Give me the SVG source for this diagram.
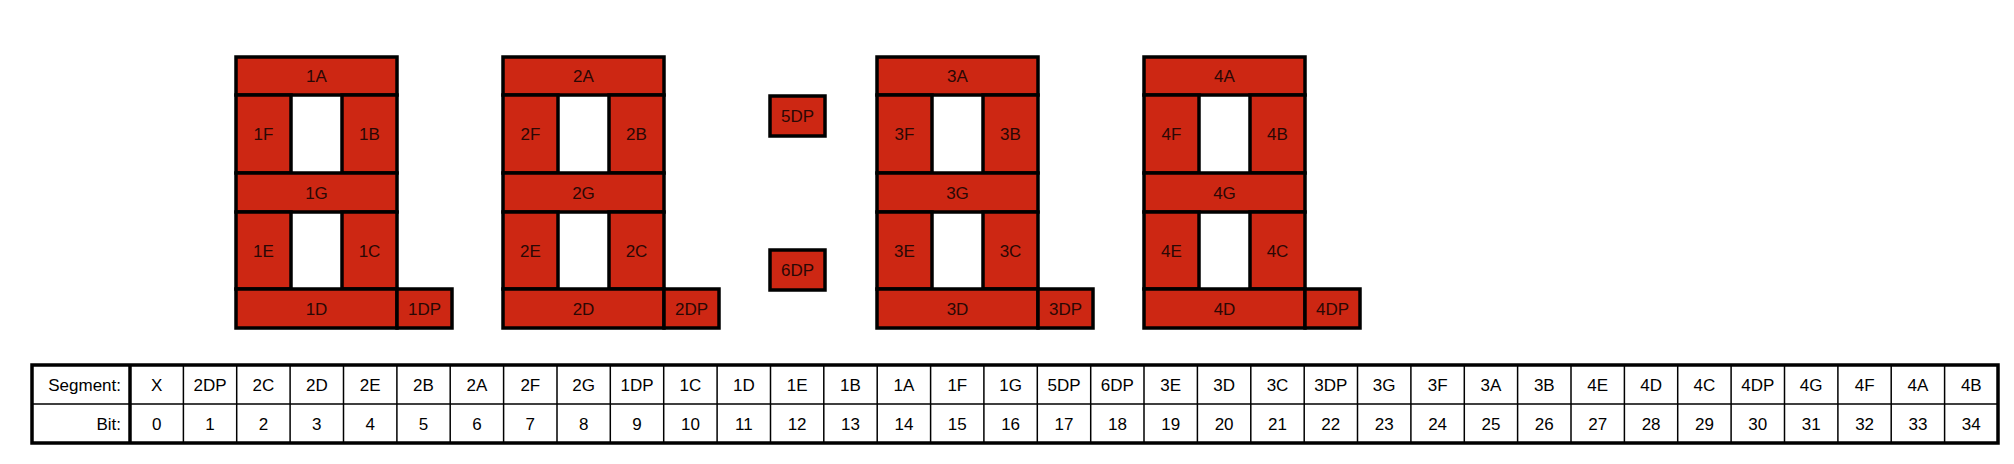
<svg xmlns="http://www.w3.org/2000/svg" width="2014" height="464" viewBox="0 0 2014 464">
<style>
.seg{fill:#CD2713;stroke:#000;stroke-width:3.5}
.st{font-family:"Liberation Sans",Arial,sans-serif;font-size:17px;fill:#2a0805;text-anchor:middle}
.tt{font-family:"Liberation Sans",Arial,sans-serif;font-size:17px;fill:#000;text-anchor:middle}
.tr{text-anchor:end}
.thin{stroke:#000;stroke-width:1.5;fill:none}
.thick{stroke:#000;stroke-width:3.5;fill:none}
</style>
<rect width="2014" height="464" fill="#fff"/>
<g id="digit1" transform="translate(236,0)">
<g id="s1A"><rect class="seg" x="0" y="57" width="161" height="38"/><text class="st" x="80.5" y="82">1A</text></g>
<g id="s1F"><rect class="seg" x="0" y="95" width="55" height="78"/><text class="st" x="27.5" y="140">1F</text></g>
<g id="s1B"><rect class="seg" x="106" y="95" width="55" height="78"/><text class="st" x="133.5" y="140">1B</text></g>
<g id="s1G"><rect class="seg" x="0" y="173" width="161" height="39"/><text class="st" x="80.5" y="198.5">1G</text></g>
<g id="s1E"><rect class="seg" x="0" y="212" width="55" height="77"/><text class="st" x="27.5" y="256.5">1E</text></g>
<g id="s1C"><rect class="seg" x="106" y="212" width="55" height="77"/><text class="st" x="133.5" y="256.5">1C</text></g>
<g id="s1D"><rect class="seg" x="0" y="289" width="161" height="39"/><text class="st" x="80.5" y="314.5">1D</text></g>
<g id="s1DP"><rect class="seg" x="161" y="289" width="55" height="39"/><text class="st" x="188.5" y="314.5">1DP</text></g>
</g>
<g id="digit2" transform="translate(503,0)">
<g id="s2A"><rect class="seg" x="0" y="57" width="161" height="38"/><text class="st" x="80.5" y="82">2A</text></g>
<g id="s2F"><rect class="seg" x="0" y="95" width="55" height="78"/><text class="st" x="27.5" y="140">2F</text></g>
<g id="s2B"><rect class="seg" x="106" y="95" width="55" height="78"/><text class="st" x="133.5" y="140">2B</text></g>
<g id="s2G"><rect class="seg" x="0" y="173" width="161" height="39"/><text class="st" x="80.5" y="198.5">2G</text></g>
<g id="s2E"><rect class="seg" x="0" y="212" width="55" height="77"/><text class="st" x="27.5" y="256.5">2E</text></g>
<g id="s2C"><rect class="seg" x="106" y="212" width="55" height="77"/><text class="st" x="133.5" y="256.5">2C</text></g>
<g id="s2D"><rect class="seg" x="0" y="289" width="161" height="39"/><text class="st" x="80.5" y="314.5">2D</text></g>
<g id="s2DP"><rect class="seg" x="161" y="289" width="55" height="39"/><text class="st" x="188.5" y="314.5">2DP</text></g>
</g>
<g id="colon">
<g id="s5DP"><rect class="seg" x="770" y="96" width="55" height="40"/><text class="st" x="797.5" y="122">5DP</text></g>
<g id="s6DP"><rect class="seg" x="770" y="250" width="55" height="40"/><text class="st" x="797.5" y="276">6DP</text></g>
</g>
<g id="digit3" transform="translate(877,0)">
<g id="s3A"><rect class="seg" x="0" y="57" width="161" height="38"/><text class="st" x="80.5" y="82">3A</text></g>
<g id="s3F"><rect class="seg" x="0" y="95" width="55" height="78"/><text class="st" x="27.5" y="140">3F</text></g>
<g id="s3B"><rect class="seg" x="106" y="95" width="55" height="78"/><text class="st" x="133.5" y="140">3B</text></g>
<g id="s3G"><rect class="seg" x="0" y="173" width="161" height="39"/><text class="st" x="80.5" y="198.5">3G</text></g>
<g id="s3E"><rect class="seg" x="0" y="212" width="55" height="77"/><text class="st" x="27.5" y="256.5">3E</text></g>
<g id="s3C"><rect class="seg" x="106" y="212" width="55" height="77"/><text class="st" x="133.5" y="256.5">3C</text></g>
<g id="s3D"><rect class="seg" x="0" y="289" width="161" height="39"/><text class="st" x="80.5" y="314.5">3D</text></g>
<g id="s3DP"><rect class="seg" x="161" y="289" width="55" height="39"/><text class="st" x="188.5" y="314.5">3DP</text></g>
</g>
<g id="digit4" transform="translate(1144,0)">
<g id="s4A"><rect class="seg" x="0" y="57" width="161" height="38"/><text class="st" x="80.5" y="82">4A</text></g>
<g id="s4F"><rect class="seg" x="0" y="95" width="55" height="78"/><text class="st" x="27.5" y="140">4F</text></g>
<g id="s4B"><rect class="seg" x="106" y="95" width="55" height="78"/><text class="st" x="133.5" y="140">4B</text></g>
<g id="s4G"><rect class="seg" x="0" y="173" width="161" height="39"/><text class="st" x="80.5" y="198.5">4G</text></g>
<g id="s4E"><rect class="seg" x="0" y="212" width="55" height="77"/><text class="st" x="27.5" y="256.5">4E</text></g>
<g id="s4C"><rect class="seg" x="106" y="212" width="55" height="77"/><text class="st" x="133.5" y="256.5">4C</text></g>
<g id="s4D"><rect class="seg" x="0" y="289" width="161" height="39"/><text class="st" x="80.5" y="314.5">4D</text></g>
<g id="s4DP"><rect class="seg" x="161" y="289" width="55" height="39"/><text class="st" x="188.5" y="314.5">4DP</text></g>
</g>
<g id="table">
<path class="thin" d="M32 404H1998 M183.4 365V443 M236.7 365V443 M290.1 365V443 M343.5 365V443 M396.9 365V443 M450.2 365V443 M503.6 365V443 M557 365V443 M610.3 365V443 M663.7 365V443 M717.1 365V443 M770.5 365V443 M823.8 365V443 M877.2 365V443 M930.6 365V443 M983.9 365V443 M1037.3 365V443 M1090.7 365V443 M1144 365V443 M1197.4 365V443 M1250.8 365V443 M1304.2 365V443 M1357.5 365V443 M1410.9 365V443 M1464.3 365V443 M1517.6 365V443 M1571 365V443 M1624.4 365V443 M1677.7 365V443 M1731.1 365V443 M1784.5 365V443 M1837.9 365V443 M1891.2 365V443 M1944.6 365V443"/>
<path class="thick" d="M130 365V443"/>
<rect class="thick" x="32" y="365" width="1966" height="78"/>
<g class="tt">
<text class="tt tr" x="121" y="390.5">Segment:</text>
<text class="tt tr" x="121" y="429.5">Bit:</text>
<text x="156.7" y="390.5">X</text><text x="210.1" y="390.5">2DP</text><text x="263.4" y="390.5">2C</text><text x="316.8" y="390.5">2D</text><text x="370.2" y="390.5">2E</text><text x="423.5" y="390.5">2B</text><text x="476.9" y="390.5">2A</text><text x="530.3" y="390.5">2F</text><text x="583.7" y="390.5">2G</text><text x="637" y="390.5">1DP</text><text x="690.4" y="390.5">1C</text><text x="743.8" y="390.5">1D</text><text x="797.1" y="390.5">1E</text><text x="850.5" y="390.5">1B</text><text x="903.9" y="390.5">1A</text><text x="957.3" y="390.5">1F</text><text x="1010.6" y="390.5">1G</text><text x="1064" y="390.5">5DP</text><text x="1117.4" y="390.5">6DP</text><text x="1170.7" y="390.5">3E</text><text x="1224.1" y="390.5">3D</text><text x="1277.5" y="390.5">3C</text><text x="1330.8" y="390.5">3DP</text><text x="1384.2" y="390.5">3G</text><text x="1437.6" y="390.5">3F</text><text x="1491" y="390.5">3A</text><text x="1544.3" y="390.5">3B</text><text x="1597.7" y="390.5">4E</text><text x="1651.1" y="390.5">4D</text><text x="1704.4" y="390.5">4C</text><text x="1757.8" y="390.5">4DP</text><text x="1811.2" y="390.5">4G</text><text x="1864.6" y="390.5">4F</text><text x="1917.9" y="390.5">4A</text><text x="1971.3" y="390.5">4B</text>
<text x="156.7" y="429.5">0</text><text x="210.1" y="429.5">1</text><text x="263.4" y="429.5">2</text><text x="316.8" y="429.5">3</text><text x="370.2" y="429.5">4</text><text x="423.5" y="429.5">5</text><text x="476.9" y="429.5">6</text><text x="530.3" y="429.5">7</text><text x="583.7" y="429.5">8</text><text x="637" y="429.5">9</text><text x="690.4" y="429.5">10</text><text x="743.8" y="429.5">11</text><text x="797.1" y="429.5">12</text><text x="850.5" y="429.5">13</text><text x="903.9" y="429.5">14</text><text x="957.3" y="429.5">15</text><text x="1010.6" y="429.5">16</text><text x="1064" y="429.5">17</text><text x="1117.4" y="429.5">18</text><text x="1170.7" y="429.5">19</text><text x="1224.1" y="429.5">20</text><text x="1277.5" y="429.5">21</text><text x="1330.8" y="429.5">22</text><text x="1384.2" y="429.5">23</text><text x="1437.6" y="429.5">24</text><text x="1491" y="429.5">25</text><text x="1544.3" y="429.5">26</text><text x="1597.7" y="429.5">27</text><text x="1651.1" y="429.5">28</text><text x="1704.4" y="429.5">29</text><text x="1757.8" y="429.5">30</text><text x="1811.2" y="429.5">31</text><text x="1864.6" y="429.5">32</text><text x="1917.9" y="429.5">33</text><text x="1971.3" y="429.5">34</text>
</g>
</g>
</svg>
